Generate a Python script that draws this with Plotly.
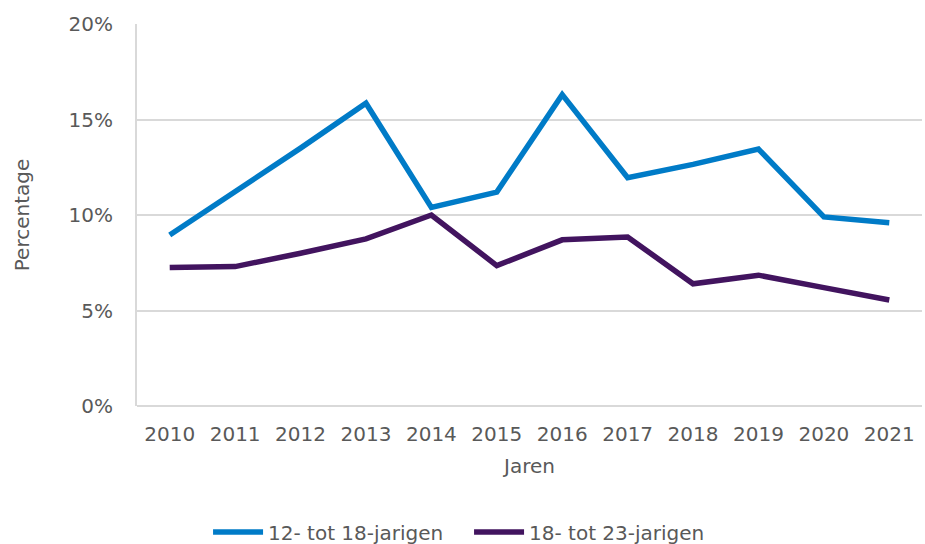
import plotly.graph_objects as go

years = ["2010", "2011", "2012", "2013", "2014", "2015", "2016", "2017", "2018", "2019", "2020", "2021"]
s12_18 = [8.95, 11.2, 13.5, 15.85, 10.4, 11.2, 16.3, 11.95, 12.65, 13.45, 9.9, 9.6]
s18_23 = [7.25, 7.3, 8.0, 8.75, 10.0, 7.35, 8.7, 8.85, 6.4, 6.85, 6.2, 5.55]
name12 = "12- tot 18-jarigen"
name18 = "18- tot 23-jarigen"
yticks = [0, 5, 10, 15, 20]

FONT = "DejaVu Sans"
TXT = "#595959"
FS = 20

fig = go.Figure()
fig.add_trace(go.Scatter(x=years, y=s12_18, mode="lines", name=name12,
                         line=dict(color="#007BC7", width=5.5)))
fig.add_trace(go.Scatter(x=years, y=s18_23, mode="lines", name=name18,
                         line=dict(color="#42145F", width=5.5)))

fig.update_layout(
    width=925, height=544,
    margin=dict(l=137, r=3, t=24, b=138, autoexpand=False),
    paper_bgcolor="white", plot_bgcolor="white",
    font=dict(family=FONT, size=FS, color=TXT),
    showlegend=True,
    legend=dict(orientation="h", x=0.423, xanchor="center", y=-0.33, yanchor="middle",
                font=dict(family=FONT, size=FS, color=TXT), itemwidth=50,
                entrywidthmode="pixels", entrywidth=196),
    xaxis=dict(type="category", range=[-0.5, 11.5], showgrid=False, automargin=False,
               showline=False, ticks="", tickfont=dict(size=FS, color=TXT),
               ticklabelstandoff=14,
               title=dict(text="Jaren", font=dict(size=FS, color=TXT), standoff=13)),
    yaxis=dict(range=[0, 20], tickvals=yticks, ticktext=[f"{v}%" for v in yticks],
               automargin=False,
               showgrid=True, gridcolor="#D9D9D9", gridwidth=2,
               zeroline=True, zerolinecolor="#D9D9D9", zerolinewidth=2,
               showline=True, linecolor="#D9D9D9", linewidth=2,
               ticks="", ticklen=0, tickfont=dict(size=FS, color=TXT),
               ticklabelstandoff=18,
               title=dict(text="Percentage", font=dict(size=FS, color=TXT), standoff=34)),
)

fig.write_html("out.html", config={"displayModeBar": False},
               post_script="document.body.style.margin='0';")
